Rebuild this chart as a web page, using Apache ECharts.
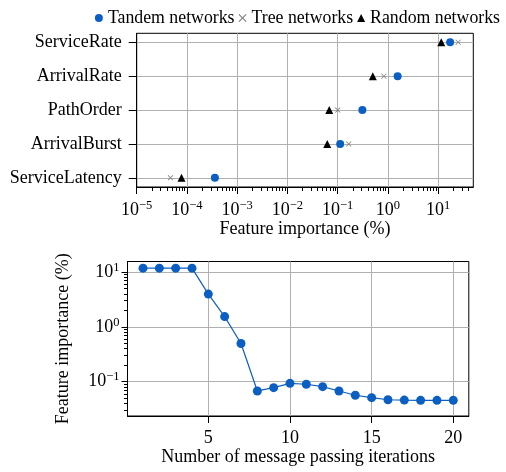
<!DOCTYPE html>
<html>
<head>
<meta charset="utf-8">
<title>Feature importance</title>
<script src="https://cdn.jsdelivr.net/npm/echarts@6/dist/echarts.min.js"></script>
<style>
  html, body { margin: 0; padding: 0; background: #fff; }
  #main { width: 506px; height: 472px; }
</style>
</head>
<body>
<div id="main"></div>
<script>
// 上图：各特征的重要性
var features = ['ServiceRate', 'ArrivalRate', 'PathOrder', 'ArrivalBurst', 'ServiceLatency'];
var tandemValues = [17.3, 1.56, 0.31, 0.112, 0.00036];
var treeValues = [25, 0.83, 0.10, 0.166, 0.000047];
var randomValues = [11.5, 0.50, 0.068, 0.062, 0.000078];
var featureTicks = [1e-5, 1e-4, 1e-3, 1e-2, 1e-1, 1, 10];

// 下图：迭代次数
var iterations = [1, 2, 3, 4, 5, 6, 7, 8, 9, 10, 11, 12, 13, 14, 15, 16, 17, 18, 19, 20];
var iterImportance = [11.8, 11.8, 11.8, 11.8, 3.96, 1.54, 0.497, 0.0676, 0.0777, 0.093, 0.0896, 0.081,
  0.0676, 0.0564, 0.051, 0.0467, 0.046, 0.0456, 0.0456, 0.0456];
var iterTicks = [5, 10, 15, 20];
var iterImportanceTicks = [0.1, 1, 10];

var FONT = 'Liberation Serif';
var BLUE = '#0b5fc2';
var GRID_COLOR = '#b0b0b0';
var CROSS = 'path://M0,1 L1,0 L5,4 L9,0 L10,1 L6,5 L10,9 L9,10 L5,6 L1,10 L0,9 L4,5 Z';

//对数坐标的次刻度 2..9
function minorTicks(lo, hi) {
  var res = [];
  for (var e = -6; e <= 2; e++) {
    for (var m = 2; m <= 9; m++) {
      var v = parseFloat((m * Math.pow(10, e)).toPrecision(6));
      if (v > lo && v < hi) res.push(v);
    }
  }
  return res;
}

//10的幂上标
function powLabel(v) {
  var e = Math.round(Math.log(v) / Math.LN10);
  var s = e < 0 ? '\u2212' + (-e) : '' + e;
  return '{b|10}{s|' + s + '}';
}
var powRich = {
  b: { fontFamily: FONT, fontSize: 18, lineHeight: 22, color: '#000' },
  s: { fontFamily: FONT, fontSize: 12.5, lineHeight: 12, verticalAlign: 'top', color: '#000' }
};

var chart = echarts.init(document.getElementById('main'));

function pairs(values) {
  return values.map(function (v, i) { return [v, i]; });
}

var option = {
  animation: false,
  textStyle: { fontFamily: FONT },
  legend: {
    right: 1,
    top: 4,
    itemWidth: 8,
    itemHeight: 8,
    itemGap: 4,
    textStyle: { fontFamily: FONT, fontSize: 17.8, color: '#000' },
    data: [
      { name: 'Tandem networks', icon: 'circle' },
      { name: 'Tree networks', icon: CROSS },
      { name: 'Random networks', icon: 'triangle' }
    ]
  },
  grid: [
    { left: 136.7, top: 33.3, width: 336.6, height: 153.7, show: true, borderColor: '#000', borderWidth: 1 },
    { left: 127.5, top: 261.5, width: 341.3, height: 154.5, show: true, borderColor: '#000', borderWidth: 1 }
  ],
  xAxis: [{
    gridIndex: 0,
    type: 'log',
    logBase: 10,
    min: 1e-5,
    max: 50,
    name: 'Feature importance (%)',
    nameLocation: 'middle',
    nameGap: 32,
    nameTextStyle: { fontFamily: FONT, fontSize: 18, color: '#000' },
    axisLine: { onZero: false, lineStyle: { color: '#000', width: 1 } },
    axisTick: { customValues: featureTicks, length: 7, lineStyle: { color: '#000' } },
    axisLabel: { customValues: featureTicks, margin: 12, formatter: powLabel, rich: powRich },
    splitLine: { show: true, lineStyle: { color: GRID_COLOR, width: 1 } }
  }, {
    gridIndex: 0,
    type: 'log',
    logBase: 10,
    min: 1e-5,
    max: 50,
    position: 'bottom',
    axisLine: { show: false, onZero: false },
    axisTick: { customValues: minorTicks(1e-5, 50), length: 4, lineStyle: { color: '#000' } },
    axisLabel: { show: false },
    splitLine: { show: false }
  }, {
    gridIndex: 1,
    type: 'value',
    min: 0.05,
    max: 20.95,
    name: 'Number of message passing iterations',
    nameLocation: 'middle',
    nameGap: 31,
    nameTextStyle: { fontFamily: FONT, fontSize: 18, color: '#000' },
    axisLine: { onZero: false, lineStyle: { color: '#000', width: 1 } },
    axisTick: { customValues: iterTicks, length: 7, lineStyle: { color: '#000' } },
    axisLabel: { customValues: iterTicks, margin: 13, fontFamily: FONT, fontSize: 18, color: '#000' },
    splitLine: { show: true, lineStyle: { color: GRID_COLOR, width: 1 } }
  }],
  yAxis: [{
    gridIndex: 0,
    type: 'value',
    inverse: true,
    min: -0.266,
    max: 4.27,
    axisLine: { onZero: false, lineStyle: { color: '#000', width: 1 } },
    axisTick: { customValues: [0, 1, 2, 3, 4], length: 8, lineStyle: { color: '#000' } },
    axisLabel: {
      customValues: [0, 1, 2, 3, 4],
      margin: 15,
      fontFamily: FONT,
      fontSize: 18,
      color: '#000',
      formatter: function (v) { return features[v]; }
    },
    splitLine: { show: true, lineStyle: { color: GRID_COLOR, width: 1 } }
  }, {
    gridIndex: 1,
    type: 'log',
    logBase: 10,
    min: 0.0236,
    max: 15.6,
    name: 'Feature importance (%)',
    nameLocation: 'middle',
    nameRotate: 90,
    nameGap: 55,
    nameTextStyle: { fontFamily: FONT, fontSize: 18, color: '#000' },
    axisLine: { onZero: false, lineStyle: { color: '#000', width: 1 } },
    axisTick: { customValues: iterImportanceTicks, length: 6, lineStyle: { color: '#000' } },
    axisLabel: { customValues: iterImportanceTicks, margin: 8, formatter: powLabel, rich: powRich },
    splitLine: { show: true, lineStyle: { color: GRID_COLOR, width: 1 } }
  }, {
    gridIndex: 1,
    type: 'log',
    logBase: 10,
    min: 0.0236,
    max: 15.6,
    position: 'left',
    axisLine: { show: false, onZero: false },
    axisTick: { customValues: minorTicks(0.0236, 15.6), length: 3.5, lineStyle: { color: '#000' } },
    axisLabel: { show: false },
    splitLine: { show: false }
  }],
  series: [{
    name: 'Tandem networks',
    type: 'scatter',
    xAxisIndex: 0,
    yAxisIndex: 0,
    symbol: 'circle',
    symbolSize: 8,
    itemStyle: { color: BLUE, opacity: 1 },
    data: pairs(tandemValues),
    z: 3
  }, {
    name: 'Tree networks',
    type: 'scatter',
    xAxisIndex: 0,
    yAxisIndex: 0,
    symbol: CROSS,
    symbolSize: 5.5,
    itemStyle: { color: '#808080', opacity: 1 },
    data: pairs(treeValues),
    z: 2
  }, {
    name: 'Random networks',
    type: 'scatter',
    xAxisIndex: 0,
    yAxisIndex: 0,
    symbol: 'triangle',
    symbolSize: 8,
    itemStyle: { color: '#000', opacity: 1 },
    data: pairs(randomValues),
    z: 2
  }, {
    name: 'iterations',
    type: 'line',
    xAxisIndex: 2,
    yAxisIndex: 1,
    symbol: 'circle',
    symbolSize: 9,
    showSymbol: true,
    lineStyle: { color: BLUE, width: 1.2 },
    itemStyle: { color: BLUE },
    data: iterations.map(function (x, i) { return [x, iterImportance[i]]; })
  }]
};
chart.setOption(option);
</script>
</body>
</html>
